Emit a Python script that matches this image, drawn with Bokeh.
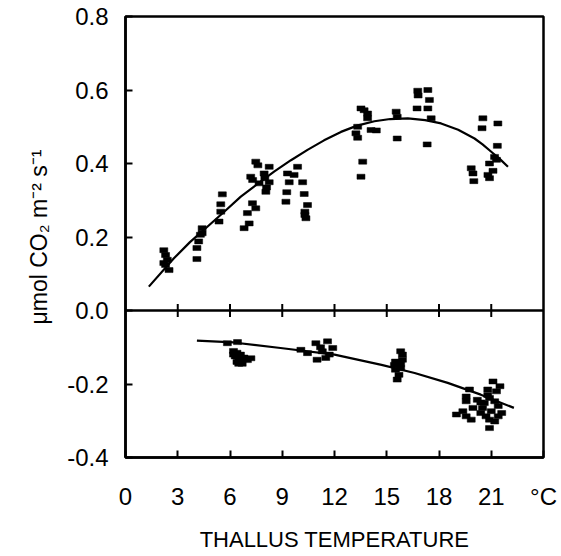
import math
from bokeh.plotting import figure
from bokeh.models import FixedTicker, NumeralTickFormatter, Span
from bokeh.embed import file_html
from bokeh.resources import INLINE

# ---- data ----
# photosynthesis (positive) measurements
pos_temp = [2.2, 2.3, 2.4, 2.3, 2.5, 2.2,
            4.4, 4.3, 4.2, 4.1, 4.1, 4.4,
            5.56, 5.47, 5.47, 5.37,
            7.48, 7.6, 8.25, 7.19, 7.96, 8.25, 7.67, 8.06, 7.29, 7.48, 7.0, 7.1, 6.81, 7.3, 8.0, 8.1,
            9.88, 9.30, 9.68, 10.17, 9.40, 10.26, 9.26, 9.21, 10.45, 10.3, 10.36, 10.3,
            13.52, 13.7, 13.9, 13.9, 13.33, 14.1, 14.4, 13.23, 13.33, 13.62, 13.52,
            15.54, 15.6, 15.6,
            16.78, 16.8, 17.36, 17.45, 16.74, 17.36, 17.55, 17.32,
            20.52, 21.38, 20.47, 21.35, 21.19, 20.9, 21.3, 19.85, 19.95, 20.0, 20.81, 20.9, 21.1]
pos_rate = [0.164, 0.151, 0.138, 0.124, 0.110, 0.129,
            0.224, 0.206, 0.188, 0.170, 0.140, 0.210,
            0.316, 0.289, 0.269, 0.242,
            0.405, 0.395, 0.391, 0.364, 0.373, 0.349, 0.346, 0.323, 0.292, 0.278, 0.265, 0.237, 0.224, 0.355, 0.360, 0.335,
            0.391, 0.373, 0.369, 0.349, 0.349, 0.317, 0.322, 0.296, 0.287, 0.269, 0.251, 0.260,
            0.550, 0.545, 0.536, 0.523, 0.500, 0.491, 0.490, 0.482, 0.470, 0.405, 0.364,
            0.541, 0.527, 0.468,
            0.598, 0.585, 0.600, 0.573, 0.550, 0.550, 0.523, 0.452,
            0.523, 0.509, 0.496, 0.448, 0.418, 0.400, 0.410, 0.387, 0.373, 0.352, 0.369, 0.360, 0.380]

# respiration (negative) measurements
neg_temp = [5.85, 6.43, 6.2, 6.4, 6.6, 6.3, 6.5, 6.8, 6.4, 6.6, 7.0, 6.5, 7.2, 6.2, 6.7,
            10.07, 10.45, 10.93, 11.6, 11.3, 11.9, 11.0, 11.7, 11.5, 11.2,
            15.8, 15.9, 15.9, 15.5, 15.44, 15.8, 15.5, 15.7, 15.6, 15.8,
            19.75, 19.56, 19.56, 19.0, 19.37, 19.56, 19.85, 19.95, 21.1, 21.5, 20.8, 20.9, 20.6,
            21.2, 21.4, 20.5, 21.0, 20.4, 21.6, 20.7, 21.4, 20.9, 21.2, 20.9, 20.2, 20.8, 21.3, 20.4]
neg_rate = [-0.089, -0.086, -0.110, -0.115, -0.120, -0.125, -0.130, -0.128, -0.140, -0.138, -0.135, -0.145, -0.130, -0.120, -0.145,
            -0.107, -0.116, -0.089, -0.084, -0.111, -0.102, -0.134, -0.120, -0.129, -0.100,
            -0.111, -0.120, -0.134, -0.139, -0.148, -0.157, -0.161, -0.175, -0.188, -0.145,
            -0.215, -0.234, -0.247, -0.283, -0.274, -0.288, -0.297, -0.265, -0.193, -0.206, -0.215, -0.238, -0.252,
            -0.247, -0.260, -0.265, -0.274, -0.279, -0.279, -0.288, -0.288, -0.297, -0.302, -0.320, -0.243, -0.230, -0.220, -0.250]

# fitted curves
pos_fit_temp = [1.34, 2.78, 3.7, 4.70, 5.7, 6.62, 7.6, 8.53, 9.5, 10.45, 11.4, 12.37, 13.3,
                14.29, 15.2, 16.21, 17.2, 18.12, 19.1, 20.04, 20.5, 21.0, 21.5, 21.96]
pos_fit_rate = [0.065, 0.142, 0.186, 0.228, 0.270, 0.310, 0.345, 0.378, 0.409, 0.437, 0.463, 0.486, 0.503,
                0.515, 0.521, 0.523, 0.518, 0.509, 0.492, 0.468, 0.452, 0.432, 0.412, 0.391]
neg_fit_temp = [4.1, 6.2, 8.9, 12.0, 14.7, 16.6, 18.5, 20.4, 22.3]
neg_fit_rate = [-0.082, -0.087, -0.102, -0.120, -0.148, -0.170, -0.197, -0.229, -0.265]

x_ticks = [0, 3, 6, 9, 12, 15, 18, 21, 24]
x_tick_labels = {24: "°C"}
inner_ticks = [3, 6, 9, 12, 15, 18, 21]
y_ticks = [-0.4, -0.2, 0.0, 0.2, 0.4, 0.6, 0.8]
x_title = "THALLUS TEMPERATURE"
y_title = "μmol CO₂ m⁻² s⁻¹"

FONT = "Liberation Sans"

p = figure(width=561, height=556, x_range=(0, 24), y_range=(-0.4, 0.8),
           output_backend="svg", toolbar_location=None,
           min_border_left=125, min_border_right=18, min_border_top=16, min_border_bottom=99)
p.grid.visible = False
p.background_fill_color = "white"
p.border_fill_color = "white"
p.outline_line_color = "black"
p.outline_line_width = 2.5

xa = p.xaxis[0]
xa.ticker = FixedTicker(ticks=x_ticks)
xa.major_label_overrides = x_tick_labels
xa.major_tick_in = 7
xa.major_tick_out = 0
xa.minor_tick_line_color = None
xa.axis_line_width = 2.5
xa.major_tick_line_width = 2
xa.major_label_text_font = FONT
xa.major_label_text_font_size = "24px"
xa.major_label_text_color = "black"
xa.major_label_standoff = 25
xa.axis_label = x_title
xa.axis_label_text_font = FONT
xa.axis_label_text_font_size = "22px"
xa.axis_label_text_font_style = "normal"
xa.axis_label_text_color = "black"
xa.axis_label_standoff = 14

ya = p.yaxis[0]
ya.ticker = FixedTicker(ticks=y_ticks)
ya.formatter = NumeralTickFormatter(format="0.0")
ya.major_tick_in = 7
ya.major_tick_out = 0
ya.minor_tick_line_color = None
ya.axis_line_width = 2.5
ya.major_tick_line_width = 2
ya.major_label_text_font = FONT
ya.major_label_text_font_size = "24px"
ya.major_label_text_color = "black"
ya.major_label_standoff = 17
ya.axis_label = y_title
ya.axis_label_text_font = FONT
ya.axis_label_text_font_size = "23px"
ya.axis_label_text_font_style = "normal"
ya.axis_label_text_color = "black"
ya.axis_label_standoff = 12

# zero line with crossing ticks
p.add_layout(Span(location=0, dimension="width", line_color="black", line_width=2.5))
p.scatter(x=inner_ticks, y=[0] * len(inner_ticks), marker="dash", angle=math.pi / 2,
          size=13, line_color="black", line_width=2)

# measurements
p.rect(x=pos_temp, y=pos_rate, width=8, height=5, width_units="screen", height_units="screen",
       fill_color="black", line_color="black", line_width=0.5)
p.rect(x=neg_temp, y=neg_rate, width=8, height=5, width_units="screen", height_units="screen",
       fill_color="black", line_color="black", line_width=0.5)

# fits
p.line(pos_fit_temp, pos_fit_rate, line_color="black", line_width=2.2, line_join="round")
p.line(neg_fit_temp, neg_fit_rate, line_color="black", line_width=2.2, line_join="round")

open("out.html", "w").write(file_html(p, INLINE))
